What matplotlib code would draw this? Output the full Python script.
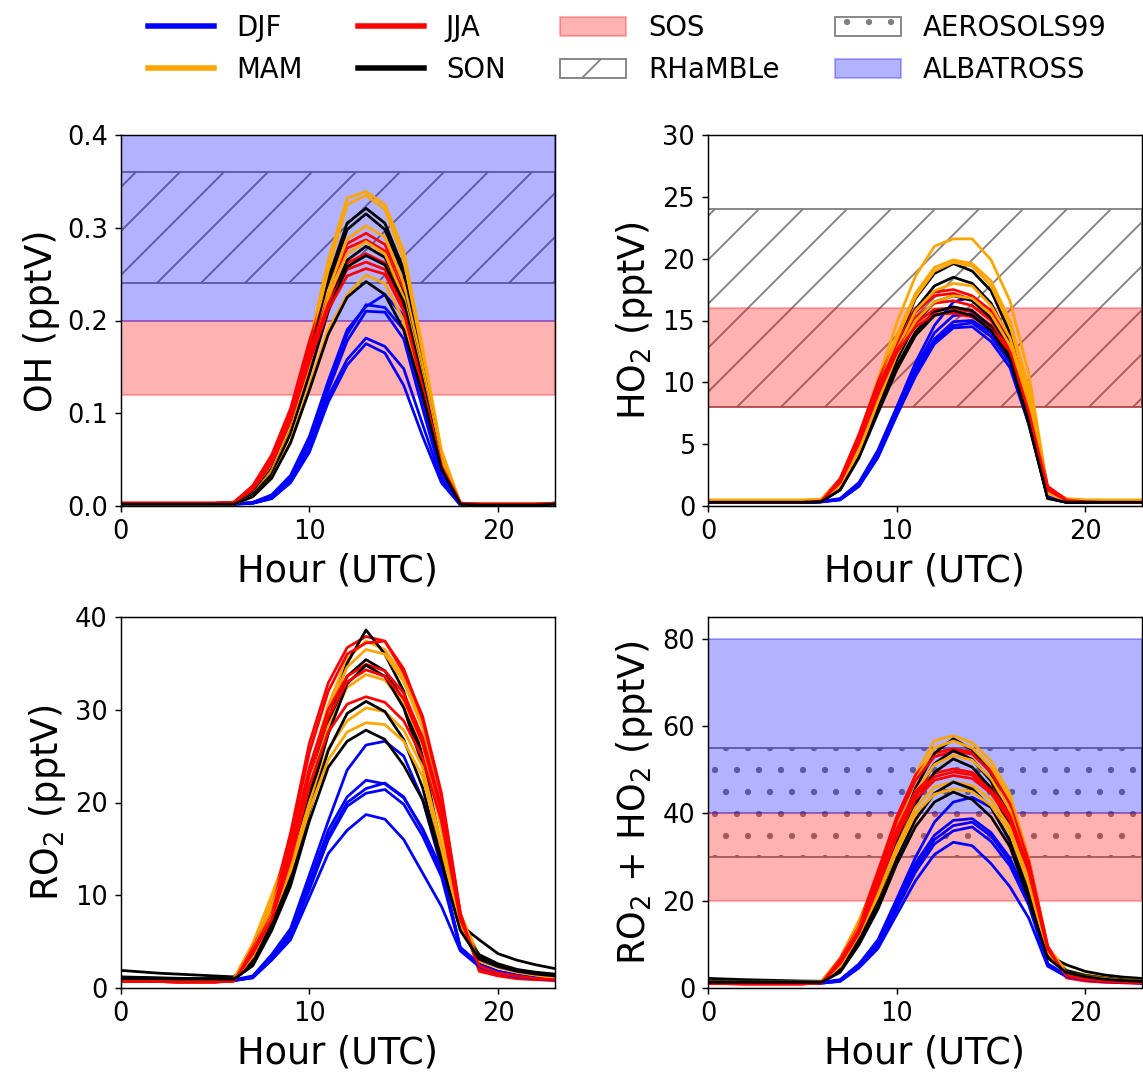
import matplotlib
matplotlib.use('Agg')
from matplotlib import pyplot as plt
from matplotlib.lines import Line2D
from matplotlib.patches import Patch

hours = list(range(24))

seasons = ['DJF', 'MAM', 'JJA', 'SON']
season_colors = ['blue', 'orange', 'red', 'black']

# OH (pptV), 5 curves per season
oh_djf = [
    [.002, .002, .002, .002, .002, .002, .002, .004, .012, .033, .075, .135, .190, .215, .228, .205, .130, .045, .002, .001, .001, .001, .001, .001],
    [.002, .002, .002, .002, .002, .002, .002, .004, .010, .030, .070, .130, .185, .217, .214, .190, .115, .038, .002, .001, .001, .001, .001, .002],
    [.002, .002, .002, .002, .002, .002, .002, .003, .009, .028, .066, .125, .178, .210, .209, .180, .105, .032, .001, .001, .001, .001, .001, .001],
    [.002, .002, .002, .002, .002, .002, .002, .003, .008, .026, .060, .118, .158, .181, .172, .148, .088, .028, .001, .001, .001, .001, .001, .001],
    [.002, .002, .002, .002, .002, .002, .002, .003, .008, .025, .058, .112, .152, .175, .165, .130, .075, .025, .001, .001, .001, .001, .001, .001],
]
oh_mam = [
    [.002, .002, .002, .002, .002, .002, .003, .016, .045, .095, .175, .265, .332, .339, .325, .275, .170, .060, .003, .002, .002, .002, .002, .002],
    [.002, .002, .002, .002, .002, .002, .003, .014, .042, .090, .165, .255, .325, .335, .320, .265, .160, .055, .003, .002, .002, .002, .002, .002],
    [.002, .002, .002, .002, .002, .002, .003, .012, .038, .085, .155, .232, .288, .302, .290, .240, .150, .050, .002, .002, .002, .002, .002, .002],
    [.002, .002, .002, .002, .002, .002, .003, .012, .036, .080, .150, .225, .272, .285, .272, .225, .140, .048, .002, .002, .002, .002, .002, .002],
    [.002, .002, .002, .002, .002, .002, .002, .010, .030, .070, .130, .190, .228, .249, .240, .200, .125, .045, .002, .002, .002, .002, .002, .002],
]
oh_jja = [
    [.003, .003, .003, .003, .003, .003, .004, .022, .055, .105, .178, .240, .283, .294, .282, .238, .145, .050, .003, .002, .002, .002, .002, .003],
    [.003, .003, .003, .003, .003, .003, .004, .020, .052, .100, .172, .235, .278, .287, .275, .230, .140, .048, .003, .002, .002, .002, .002, .003],
    [.003, .003, .003, .003, .003, .003, .004, .020, .050, .098, .165, .225, .262, .272, .262, .220, .135, .045, .003, .002, .002, .002, .002, .003],
    [.003, .003, .003, .003, .003, .003, .004, .019, .048, .095, .160, .218, .255, .263, .255, .215, .130, .044, .003, .002, .002, .002, .002, .003],
    [.003, .003, .003, .003, .003, .003, .004, .018, .046, .092, .155, .212, .248, .256, .250, .210, .128, .043, .003, .002, .002, .002, .002, .003],
]
oh_son = [
    [.002, .002, .002, .002, .002, .002, .003, .015, .042, .090, .165, .245, .305, .321, .305, .255, .155, .050, .002, .001, .001, .001, .001, .002],
    [.002, .002, .002, .002, .002, .002, .003, .014, .040, .088, .160, .240, .298, .315, .298, .250, .150, .048, .002, .001, .001, .001, .001, .002],
    [.002, .002, .002, .002, .002, .002, .003, .012, .036, .080, .148, .215, .265, .280, .268, .228, .140, .045, .002, .001, .001, .001, .001, .002],
    [.002, .002, .002, .002, .002, .002, .003, .012, .034, .078, .142, .210, .258, .270, .260, .220, .135, .043, .002, .001, .001, .001, .001, .002],
    [.002, .002, .002, .002, .002, .002, .002, .010, .030, .068, .125, .185, .225, .242, .228, .190, .120, .040, .002, .001, .001, .001, .001, .002],
]

# HO2 (pptV)
ho2_djf = [
    [.35, .35, .35, .35, .35, .35, .38, .60, 1.9, 4.5, 8.0, 11.6, 14.6, 16.5, 16.9, 15.4, 12.8, 7.4, .80, .40, .35, .35, .35, .35],
    [.30, .30, .30, .30, .30, .30, .35, .55, 1.8, 4.3, 7.8, 11.2, 14.0, 15.4, 15.5, 14.6, 12.4, 7.2, .75, .35, .30, .30, .30, .30],
    [.30, .30, .30, .30, .30, .30, .35, .55, 1.7, 4.2, 7.6, 10.9, 13.5, 14.9, 15.0, 14.0, 12.0, 7.0, .70, .35, .30, .30, .30, .30],
    [.30, .30, .30, .30, .30, .30, .33, .50, 1.6, 4.0, 7.4, 10.7, 13.3, 14.6, 14.8, 13.7, 11.6, 6.8, .70, .35, .30, .30, .30, .30],
    [.30, .30, .30, .30, .30, .30, .33, .50, 1.6, 3.9, 7.3, 10.5, 13.1, 14.4, 14.5, 13.3, 11.2, 6.6, .70, .35, .30, .30, .30, .30],
]
ho2_mam = [
    [.50, .50, .50, .50, .50, .50, .55, 2.2, 5.6, 10.2, 14.8, 18.6, 21.0, 21.6, 21.6, 19.9, 16.6, 10.7, 1.4, .60, .50, .50, .50, .50],
    [.45, .45, .45, .45, .45, .45, .50, 2.0, 5.2, 9.6, 13.8, 17.2, 19.3, 19.9, 19.6, 18.2, 15.0, 9.5, 1.2, .50, .45, .45, .45, .45],
    [.45, .45, .45, .45, .45, .45, .50, 1.9, 5.0, 9.3, 13.5, 16.9, 19.0, 19.7, 19.4, 17.8, 14.6, 9.2, 1.2, .50, .45, .45, .45, .45],
    [.40, .40, .40, .40, .40, .40, .45, 1.7, 4.6, 8.7, 12.6, 15.8, 17.4, 18.0, 17.8, 16.2, 13.6, 8.6, 1.1, .45, .40, .40, .40, .40],
    [.40, .40, .40, .40, .40, .40, .45, 1.6, 4.4, 8.4, 12.2, 15.0, 16.5, 17.0, 16.8, 15.5, 13.0, 8.2, 1.0, .45, .40, .40, .40, .40],
]
ho2_jja = [
    [.30, .30, .30, .30, .30, .30, .40, 2.2, 5.8, 10.0, 13.6, 16.0, 17.3, 17.5, 17.0, 15.8, 13.6, 8.4, 1.6, .50, .35, .30, .30, .30],
    [.30, .30, .30, .30, .30, .30, .40, 2.1, 5.6, 9.8, 13.3, 15.7, 17.0, 17.2, 16.7, 15.4, 13.3, 8.2, 1.5, .50, .35, .30, .30, .30],
    [.30, .30, .30, .30, .30, .30, .40, 2.0, 5.4, 9.5, 12.9, 15.2, 16.4, 16.6, 16.2, 15.0, 13.0, 8.0, 1.4, .45, .35, .30, .30, .30],
    [.30, .30, .30, .30, .30, .30, .40, 1.9, 5.2, 9.2, 12.6, 14.8, 15.9, 16.0, 15.7, 14.6, 12.7, 7.8, 1.3, .45, .35, .30, .30, .30],
    [.30, .30, .30, .30, .30, .30, .40, 1.9, 5.1, 9.0, 12.4, 14.5, 15.5, 15.6, 15.3, 14.3, 12.5, 7.6, 1.3, .45, .35, .30, .30, .30],
]
ho2_son = [
    [.30, .30, .30, .30, .30, .30, .35, 1.6, 4.8, 9.0, 13.2, 16.8, 18.8, 19.6, 19.0, 17.4, 14.0, 7.6, .70, .30, .30, .30, .30, .30],
    [.30, .30, .30, .30, .30, .30, .35, 1.5, 4.5, 8.6, 12.6, 15.9, 17.8, 18.5, 18.0, 16.4, 13.4, 7.3, .70, .30, .30, .30, .30, .30],
    [.30, .30, .30, .30, .30, .30, .35, 1.4, 4.2, 8.0, 11.8, 14.8, 16.5, 17.0, 16.6, 15.2, 12.6, 7.0, .65, .30, .30, .30, .30, .30],
    [.30, .30, .30, .30, .30, .30, .35, 1.3, 4.0, 7.7, 11.3, 14.1, 15.7, 16.1, 15.8, 14.5, 12.2, 6.8, .65, .30, .30, .30, .30, .30],
    [.30, .30, .30, .30, .30, .30, .35, 1.3, 3.9, 7.5, 11.0, 13.8, 15.4, 15.8, 15.4, 14.2, 11.9, 6.6, .60, .30, .30, .30, .30, .30],
]

# RO2 (pptV)
ro2_djf = [
    [.90, .90, .90, .85, .85, .85, .90, 1.3, 3.6, 6.4, 12.2, 18.0, 23.5, 26.2, 26.6, 25.0, 20.3, 13.0, 4.2, 2.5, 1.8, 1.4, 1.2, 1.0],
    [.80, .80, .80, .80, .80, .80, .85, 1.2, 3.4, 6.0, 11.5, 17.0, 20.6, 22.4, 22.0, 20.5, 17.2, 12.8, 4.4, 2.6, 1.8, 1.4, 1.1, .95],
    [.80, .80, .80, .80, .80, .80, .80, 1.2, 3.3, 5.8, 11.0, 16.4, 20.0, 21.5, 22.1, 20.6, 17.0, 12.5, 4.3, 2.5, 1.7, 1.3, 1.1, .90],
    [.80, .80, .80, .80, .80, .80, .80, 1.1, 3.2, 5.6, 10.6, 16.0, 19.6, 21.0, 21.4, 19.8, 16.4, 12.0, 4.2, 2.4, 1.7, 1.3, 1.0, .90],
    [.80, .80, .80, .80, .80, .80, .80, 1.1, 3.0, 5.2, 9.8, 14.5, 17.0, 18.7, 18.2, 16.0, 12.4, 8.8, 4.0, 2.3, 1.6, 1.2, 1.0, .85],
]
ro2_mam = [
    [1.0, 1.0, .95, .95, .90, .90, 1.0, 4.8, 10.0, 15.5, 23.5, 30.5, 35.5, 37.4, 36.5, 33.5, 28.6, 18.5, 8.0, 3.4, 2.6, 2.0, 1.6, 1.3],
    [1.0, 1.0, .95, .95, .90, .90, 1.0, 4.5, 9.6, 15.0, 23.0, 29.8, 34.6, 36.5, 36.0, 33.0, 28.0, 18.0, 7.8, 3.3, 2.5, 1.9, 1.5, 1.2],
    [.95, .95, .90, .90, .90, .90, .95, 4.0, 8.8, 14.2, 21.8, 28.2, 32.4, 33.8, 33.2, 30.8, 26.2, 17.0, 7.4, 3.2, 2.4, 1.8, 1.5, 1.2],
    [.90, .90, .90, .85, .85, .85, .90, 3.6, 8.0, 13.2, 20.0, 25.8, 28.8, 30.2, 29.8, 27.8, 23.8, 15.5, 7.0, 3.0, 2.3, 1.7, 1.4, 1.1],
    [.90, .90, .90, .85, .85, .85, .90, 3.4, 7.6, 12.6, 19.2, 24.6, 27.6, 28.6, 28.4, 26.6, 22.8, 15.0, 6.8, 2.9, 2.2, 1.7, 1.4, 1.1],
]
ro2_jja = [
    [.70, .70, .70, .65, .65, .65, .80, 4.5, 8.8, 16.7, 26.4, 32.9, 36.7, 37.9, 37.4, 34.0, 29.3, 21.0, 8.1, 1.8, 1.3, 1.0, .90, .80],
    [.70, .70, .70, .65, .65, .65, .80, 4.3, 8.5, 16.0, 25.4, 32.0, 36.0, 37.2, 37.4, 34.4, 29.0, 20.6, 8.0, 2.0, 1.4, 1.1, .95, .85],
    [.70, .70, .70, .65, .65, .65, .75, 4.0, 8.0, 15.0, 23.8, 30.0, 33.6, 34.9, 34.2, 31.8, 27.0, 19.5, 7.8, 2.2, 1.5, 1.2, 1.0, .90],
    [.70, .70, .70, .65, .65, .65, .75, 3.9, 7.8, 14.6, 23.0, 29.2, 33.0, 34.3, 33.6, 31.2, 26.4, 19.0, 7.6, 2.3, 1.6, 1.2, 1.0, .90],
    [.70, .70, .70, .65, .65, .65, .75, 3.7, 7.4, 13.8, 21.8, 27.6, 30.6, 31.4, 30.8, 28.8, 24.8, 18.0, 7.4, 2.4, 1.6, 1.3, 1.0, .90],
]
ro2_son = [
    [1.9, 1.75, 1.6, 1.5, 1.4, 1.3, 1.2, 3.0, 7.6, 13.1, 21.5, 29.0, 35.0, 38.6, 36.0, 32.0, 25.0, 15.0, 6.8, 5.2, 3.7, 3.0, 2.5, 2.1],
    [1.2, 1.15, 1.1, 1.05, 1.0, 1.0, 1.0, 2.8, 7.2, 12.6, 21.0, 28.4, 33.6, 35.4, 34.2, 31.0, 24.6, 14.6, 6.6, 3.6, 2.6, 2.0, 1.7, 1.5],
    [1.1, 1.1, 1.05, 1.0, 1.0, 1.0, 1.0, 2.7, 7.0, 12.2, 20.2, 27.4, 32.8, 34.8, 33.6, 30.2, 24.0, 14.2, 6.5, 3.4, 2.5, 1.9, 1.6, 1.4],
    [1.0, 1.0, 1.0, .95, .95, .95, .95, 2.5, 6.6, 11.6, 19.0, 25.6, 29.6, 30.9, 29.8, 26.8, 21.6, 13.6, 6.3, 3.2, 2.4, 1.8, 1.5, 1.3],
    [1.0, 1.0, 1.0, .95, .95, .95, .95, 2.4, 6.2, 11.0, 18.0, 23.8, 26.6, 27.8, 26.8, 24.0, 20.3, 13.5, 6.2, 3.1, 2.3, 1.8, 1.5, 1.3],
]

# RO2 + HO2 (pptV)
sum_djf = [
    [1.3, 1.3, 1.2, 1.2, 1.2, 1.2, 1.3, 1.9, 5.5, 11.0, 20.4, 30.0, 38.0, 42.6, 43.7, 41.4, 33.6, 20.6, 5.6, 3.0, 2.2, 1.8, 1.5, 1.4],
    [1.1, 1.1, 1.1, 1.1, 1.1, 1.1, 1.2, 1.8, 5.2, 10.4, 19.4, 28.6, 35.0, 38.4, 38.8, 35.6, 29.8, 20.0, 5.4, 2.9, 2.1, 1.7, 1.4, 1.3],
    [1.1, 1.1, 1.1, 1.1, 1.1, 1.1, 1.2, 1.7, 5.0, 10.0, 18.8, 27.6, 34.0, 37.2, 38.0, 34.8, 29.0, 19.6, 5.3, 2.8, 2.0, 1.6, 1.4, 1.2],
    [1.1, 1.1, 1.1, 1.1, 1.1, 1.1, 1.1, 1.6, 4.8, 9.6, 18.0, 26.6, 33.0, 36.0, 36.9, 33.6, 28.0, 19.0, 5.2, 2.7, 2.0, 1.6, 1.3, 1.2],
    [1.1, 1.1, 1.1, 1.1, 1.1, 1.1, 1.1, 1.5, 4.6, 9.0, 16.8, 24.6, 30.6, 33.4, 32.6, 28.5, 23.2, 16.0, 5.0, 2.6, 1.9, 1.5, 1.3, 1.1],
]
sum_mam = [
    [1.5, 1.5, 1.4, 1.4, 1.4, 1.4, 1.5, 6.8, 15.5, 25.4, 38.2, 49.0, 56.7, 57.8, 56.2, 52.0, 44.5, 29.6, 9.4, 4.0, 3.0, 2.4, 2.0, 1.8],
    [1.4, 1.4, 1.4, 1.4, 1.4, 1.4, 1.5, 6.4, 15.0, 24.6, 37.0, 47.6, 55.0, 56.6, 55.0, 50.6, 43.2, 28.8, 9.2, 3.8, 2.9, 2.3, 1.9, 1.7],
    [1.4, 1.4, 1.3, 1.3, 1.3, 1.3, 1.4, 5.8, 13.8, 23.2, 35.2, 45.0, 51.2, 53.3, 52.2, 48.0, 40.8, 26.6, 8.8, 3.7, 2.8, 2.2, 1.8, 1.6],
    [1.3, 1.3, 1.3, 1.3, 1.3, 1.3, 1.3, 5.2, 12.6, 21.6, 32.4, 41.4, 46.0, 47.2, 46.4, 43.2, 36.8, 24.4, 8.4, 3.5, 2.7, 2.1, 1.7, 1.5],
    [1.3, 1.3, 1.3, 1.3, 1.3, 1.3, 1.3, 5.0, 12.2, 21.0, 31.4, 40.0, 44.4, 45.6, 45.0, 41.8, 35.6, 23.6, 8.2, 3.4, 2.6, 2.1, 1.7, 1.5],
]
sum_jja = [
    [1.0, 1.0, .95, .95, .95, .95, 1.2, 6.7, 14.6, 26.7, 39.2, 48.8, 53.8, 54.8, 54.0, 49.8, 42.8, 29.2, 9.6, 2.3, 1.6, 1.3, 1.2, 1.1],
    [1.0, 1.0, .95, .95, .95, .95, 1.2, 6.4, 14.1, 25.8, 38.4, 47.6, 53.0, 54.2, 53.6, 49.4, 42.2, 28.8, 9.5, 2.5, 1.7, 1.4, 1.2, 1.1],
    [1.0, 1.0, .95, .95, .95, .95, 1.15, 6.0, 13.4, 24.4, 36.4, 45.0, 49.2, 50.2, 49.4, 46.0, 39.6, 27.4, 9.2, 2.6, 1.8, 1.5, 1.3, 1.2],
    [1.0, 1.0, .95, .95, .95, .95, 1.15, 5.8, 13.0, 23.8, 35.6, 44.2, 48.4, 49.5, 48.8, 45.2, 39.0, 27.0, 9.0, 2.7, 1.9, 1.5, 1.3, 1.2],
    [1.0, 1.0, .95, .95, .95, .95, 1.1, 5.6, 12.6, 23.0, 34.6, 43.2, 47.6, 48.7, 48.0, 44.6, 38.4, 26.6, 8.9, 2.8, 2.0, 1.6, 1.3, 1.2],
]
sum_son = [
    [2.2, 2.05, 1.9, 1.8, 1.7, 1.6, 1.55, 4.6, 12.4, 22.1, 34.7, 45.8, 53.8, 57.1, 54.6, 49.2, 39.0, 22.6, 7.5, 5.3, 3.8, 3.0, 2.5, 2.2],
    [1.5, 1.5, 1.45, 1.4, 1.4, 1.4, 1.4, 4.4, 11.8, 21.2, 33.6, 44.2, 51.4, 54.4, 52.4, 47.4, 38.0, 21.9, 7.3, 4.0, 2.9, 2.3, 1.9, 1.6],
    [1.4, 1.4, 1.4, 1.35, 1.35, 1.35, 1.4, 4.2, 11.2, 20.2, 32.0, 42.2, 49.4, 52.5, 50.6, 45.8, 36.8, 21.2, 7.2, 3.8, 2.8, 2.2, 1.8, 1.6],
    [1.3, 1.3, 1.3, 1.3, 1.3, 1.3, 1.3, 3.8, 10.4, 18.8, 29.6, 38.6, 44.6, 47.2, 45.6, 41.4, 33.8, 20.4, 7.0, 3.6, 2.7, 2.1, 1.7, 1.5],
    [1.3, 1.3, 1.3, 1.3, 1.3, 1.3, 1.3, 3.6, 9.9, 18.0, 28.4, 37.0, 42.6, 44.9, 43.2, 39.2, 32.4, 20.2, 6.9, 3.5, 2.6, 2.0, 1.7, 1.5],
]

# campaign ranges (pptV)
oh_sos = (0.12, 0.20)
oh_rhamble = (0.24, 0.36)
oh_albatross = (0.20, 0.40)
ho2_sos = (8, 16)
ho2_rhamble = (8, 24)
sum_sos = (20, 40)
sum_aerosols99 = (30, 55)
sum_albatross = (40, 80)

panels = [
    ('OH (pptV)', [oh_djf, oh_mam, oh_jja, oh_son], (0, 0.4), [0, 0.1, 0.2, 0.3, 0.4]),
    ('HO$_2$ (pptV)', [ho2_djf, ho2_mam, ho2_jja, ho2_son], (0, 30), [0, 5, 10, 15, 20, 25, 30]),
    ('RO$_2$ (pptV)', [ro2_djf, ro2_mam, ro2_jja, ro2_son], (0, 40), [0, 10, 20, 30, 40]),
    ('RO$_2$ + HO$_2$ (pptV)', [sum_djf, sum_mam, sum_jja, sum_son], (0, 85), [0, 20, 40, 60, 80]),
]

dpi = 132
fig = plt.figure(figsize=(1143 / dpi, 1075 / dpi), dpi=dpi)

W, H = 1143.0, 1075.0
rects = [
    (120.7 / W, 1 - 506 / H, 434 / W, 371 / H),
    (708 / W, 1 - 506 / H, 434 / W, 371 / H),
    (120.7 / W, 1 - 988 / H, 434 / W, 371 / H),
    (708 / W, 1 - 988 / H, 434 / W, 371 / H),
]

axes = []
for rect, (ylabel, data, ylim, yticks) in zip(rects, panels):
    ax = fig.add_axes(rect)
    axes.append(ax)
    for i in range(5):
        for s in range(4):
            ax.plot(hours, data[s][i], color=season_colors[s], lw=1.5)
    ax.set_xlim(0, 23)
    ax.set_ylim(*ylim)
    ax.set_xticks([0, 10, 20])
    ax.set_yticks(yticks)
    ax.tick_params(labelsize=14)
    ax.set_xlabel('Hour (UTC)', fontsize=20)
    ax.set_ylabel(ylabel, fontsize=20)

ax_oh, ax_ho2, ax_ro2, ax_sum = axes

# hatched campaigns first, shaded ones on top
ax_oh.axhspan(*oh_rhamble, facecolor='none', edgecolor='grey', hatch='/', lw=1)
ax_oh.axhspan(*oh_sos, color='red', alpha=0.3)
ax_oh.axhspan(*oh_albatross, color='blue', alpha=0.3)

ax_ho2.axhspan(*ho2_rhamble, facecolor='none', edgecolor='grey', hatch='/', lw=1)
ax_ho2.axhspan(*ho2_sos, color='red', alpha=0.3)

ax_sum.axhspan(*sum_aerosols99, facecolor='none', edgecolor='grey', hatch='.', lw=1)
ax_sum.axhspan(*sum_sos, color='red', alpha=0.3)
ax_sum.axhspan(*sum_albatross, color='blue', alpha=0.3)

handles = [Line2D([], [], color=c, lw=3) for c in season_colors]
handles += [
    Patch(color='red', alpha=0.3),
    Patch(facecolor='white', edgecolor='grey', hatch='/'),
    Patch(facecolor='white', edgecolor='grey', hatch='.'),
    Patch(color='blue', alpha=0.3),
]
labels = seasons + ['SOS', 'RHaMBLe', 'AEROSOLS99', 'ALBATROSS']
fig.legend(handles, labels, loc='upper center', bbox_to_anchor=(0.549, 1.01),
           ncol=4, frameon=False, fontsize=15, handlelength=2.4)

plt.savefig('out.png', dpi=dpi)
plt.close()
